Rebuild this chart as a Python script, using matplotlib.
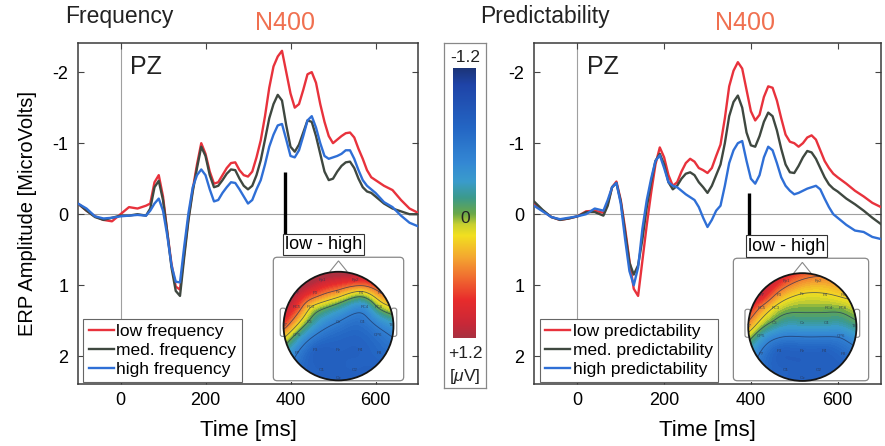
import numpy as np
import matplotlib
matplotlib.use('Agg')
import matplotlib.pyplot as plt
from matplotlib.colors import LinearSegmentedColormap
from matplotlib.patches import Circle, Polygon, FancyBboxPatch

plt.rcParams['font.family'] = ['Liberation Sans', 'DejaVu Sans']
plt.rcParams['mathtext.fontset'] = 'custom'
plt.rcParams['mathtext.it'] = 'Liberation Sans:italic'
plt.rcParams['mathtext.rm'] = 'Liberation Sans'
plt.rcParams['axes.unicode_minus'] = False

# ---------------- data ----------------
time_ms = [-100, -80, -60, -40, -20, 0, 20, 40, 60,
           70, 80, 90, 100, 110, 120, 130, 140, 150, 160, 170, 180, 190, 200,
           210, 220, 230, 240, 250, 260, 270, 280, 290, 300, 310, 320, 330, 340,
           350, 360, 370, 380, 390, 400, 410, 420, 430, 440, 450, 460, 470, 480,
           490, 500, 510, 520, 530, 540, 550, 560, 570, 580, 590, 600,
           620, 640, 660, 680, 700]

freq_low = [-0.15, -0.05, 0.03, 0.08, 0.10, 0.00, -0.10, -0.08, -0.12,
            -0.15, -0.45, -0.55, -0.25, 0.25, 0.70, 1.02, 1.06, 0.55, 0.05, -0.35, -0.70, -1.00, -0.85,
            -0.60, -0.43, -0.45, -0.55, -0.65, -0.72, -0.73, -0.62, -0.55, -0.53, -0.60, -0.80, -1.04, -1.38,
            -1.78, -2.08, -2.22, -2.30, -2.00, -1.70, -1.50, -1.55, -1.75, -1.97, -2.00, -1.85, -1.55, -1.30,
            -1.10, -1.00, -1.05, -1.10, -1.14, -1.15, -1.08, -0.92, -0.78, -0.62, -0.52, -0.48,
            -0.40, -0.34, -0.20, -0.08, -0.02]
freq_med = [-0.15, -0.05, 0.04, 0.08, 0.05, 0.02, 0.02, 0.00, 0.02,
            -0.08, -0.38, -0.47, -0.20, 0.25, 0.75, 1.08, 1.15, 0.60, 0.08, -0.32, -0.65, -0.95, -0.82,
            -0.55, -0.38, -0.40, -0.48, -0.57, -0.63, -0.62, -0.50, -0.40, -0.35, -0.40, -0.55, -0.76, -1.05,
            -1.35, -1.55, -1.68, -1.60, -1.25, -0.95, -0.88, -0.98, -1.15, -1.32, -1.30, -1.10, -0.85, -0.60,
            -0.48, -0.50, -0.60, -0.68, -0.73, -0.74, -0.65, -0.50, -0.38, -0.32, -0.30, -0.25,
            -0.15, -0.08, -0.04, 0.00, 0.00]
freq_high = [-0.15, -0.08, 0.03, 0.06, 0.05, 0.03, 0.02, 0.01, 0.02,
             -0.05, -0.15, -0.22, -0.05, 0.30, 0.72, 0.95, 0.96, 0.45, -0.02, -0.38, -0.55, -0.63, -0.55,
             -0.35, -0.18, -0.20, -0.30, -0.38, -0.45, -0.44, -0.35, -0.25, -0.15, -0.20, -0.35, -0.48, -0.70,
             -0.95, -1.12, -1.25, -1.27, -1.05, -0.82, -0.80, -0.90, -1.10, -1.32, -1.38, -1.22, -1.00, -0.82,
             -0.78, -0.80, -0.82, -0.85, -0.90, -0.90, -0.78, -0.62, -0.48, -0.40, -0.35, -0.30,
             -0.17, -0.10, 0.02, 0.12, 0.17]

pred_low = [-0.15, -0.05, 0.04, 0.08, 0.06, 0.03, -0.04, -0.05, -0.02,
            -0.15, -0.38, -0.46, -0.20, 0.20, 0.65, 1.05, 1.15, 0.65, 0.15, -0.30, -0.70, -0.94, -0.80,
            -0.55, -0.40, -0.45, -0.60, -0.72, -0.78, -0.74, -0.65, -0.62, -0.58, -0.65, -0.82, -0.98, -1.35,
            -1.80, -2.02, -2.14, -2.05, -1.75, -1.45, -1.32, -1.40, -1.65, -1.80, -1.78, -1.60, -1.35, -1.12,
            -1.02, -1.00, -0.95, -1.00, -1.08, -1.11, -1.05, -0.90, -0.75, -0.65, -0.57, -0.52,
            -0.43, -0.33, -0.25, -0.16, -0.10]
pred_med = [-0.18, -0.06, 0.04, 0.08, 0.06, 0.03, -0.03, -0.03, 0.02,
            -0.12, -0.38, -0.44, -0.18, 0.25, 0.68, 0.85, 0.72, 0.35, -0.10, -0.45, -0.75, -0.85, -0.70,
            -0.45, -0.35, -0.40, -0.50, -0.57, -0.59, -0.55, -0.45, -0.38, -0.30, -0.40, -0.55, -0.70, -1.00,
            -1.38, -1.58, -1.67, -1.50, -1.15, -0.97, -0.95, -1.10, -1.30, -1.43, -1.38, -1.18, -0.92, -0.70,
            -0.59, -0.58, -0.68, -0.80, -0.89, -0.87, -0.78, -0.65, -0.52, -0.42, -0.36, -0.32,
            -0.22, -0.14, -0.05, 0.05, 0.14]
pred_high = [-0.12, -0.04, 0.04, 0.07, 0.05, 0.03, 0.00, -0.08, -0.05,
             -0.20, -0.38, -0.44, -0.15, 0.35, 0.80, 1.00, 0.75, 0.20, -0.20, -0.50, -0.75, -0.83, -0.65,
             -0.45, -0.40, -0.38, -0.33, -0.28, -0.24, -0.20, -0.10, 0.05, 0.18, 0.08, -0.05, -0.12, -0.40,
             -0.72, -0.90, -1.00, -1.03, -0.75, -0.50, -0.43, -0.55, -0.80, -0.95, -0.90, -0.72, -0.52, -0.40,
             -0.33, -0.28, -0.30, -0.33, -0.36, -0.38, -0.40, -0.35, -0.22, -0.10, 0.00, 0.05,
             0.15, 0.23, 0.25, 0.32, 0.35]

freq_labels = ['low frequency', 'med. frequency', 'high frequency']
pred_labels = ['low predictability', 'med. predictability', 'high predictability']
x_ticks = [0, 200, 400, 600]
y_ticks = [-2, -1, 0, 1, 2]

# difference marker (time, from, to)
freq_marker = (388, -0.6, 0.58)
pred_marker = (395, -0.3, 0.62)

# topographic maps (low - high), electrode layout and values
electrodes = ['Fp1', 'Fp2', 'F7', 'F3', 'Fz', 'F4', 'F8', 'FC5', 'FC3', 'FC4', 'FC6',
              'T7', 'C3', 'Cz', 'C4', 'T8', 'CP5', 'CP6', 'P7', 'P3', 'Pz', 'P4', 'P8',
              'O1', 'O2', 'Oz']
elec_x = [-0.30, 0.30, -0.75, -0.42, 0.00, 0.42, 0.75, -0.76, -0.50, 0.48, 0.74,
          -0.97, -0.52, 0.00, 0.44, 0.97, -0.76, 0.72, -0.75, -0.42, 0.00, 0.40, 0.75,
          -0.30, 0.30, 0.00]
elec_y = [0.85, 0.85, 0.60, 0.60, 0.62, 0.60, 0.60, 0.35, 0.35, 0.35, 0.35,
          0.02, 0.08, 0.08, 0.08, 0.02, -0.16, -0.16, -0.50, -0.44, -0.44, -0.44, -0.50,
          -0.80, -0.80, -0.95]
freq_topo = [1.10, 0.90, 1.10, 0.75, 0.50, 0.20, 0.55, 0.80, 0.30, -0.30, 0.10,
             0.70, 0.00, -0.45, -0.55, -0.25, 0.00, -0.55, -0.45, -0.72, -0.72, -0.72, -0.65,
             -0.72, -0.72, -0.75]
pred_topo = [0.75, 0.50, 1.00, 0.50, 0.30, 0.28, 0.35, 0.55, 0.25, 0.10, 0.12,
             0.45, 0.00, -0.10, -0.10, -0.05, -0.15, -0.40, -0.50, -0.72, -0.72, -0.72, -0.65,
             -0.72, -0.72, -0.75]
cbar_range = (-1.2, 1.2)
cbar_labels = ['-1.2', '0', '+1.2']

# ---------------- style ----------------
c_low, c_med, c_high = '#e8323c', '#3f4840', '#2f6fd6'
cmap = LinearSegmentedColormap.from_list('erp', [
    (0.00, '#1c3578'), (0.06, '#1f44a8'), (0.22, '#2466c4'), (0.35, '#3488d4'),
    (0.42, '#3a9ccc'), (0.48, '#3c9a8c'), (0.54, '#6aa848'), (0.58, '#c8d030'),
    (0.62, '#f2e020'), (0.70, '#f4a830'), (0.78, '#f06a30'), (0.86, '#e82c2c'),
    (0.95, '#c82838'), (1.00, '#a83040')])

W, H = 885, 446
fig = plt.figure(figsize=(W / 100, H / 100), dpi=100)


def fr(x0, y0, x1, y1):
    return [x0 / W, 1 - y1 / H, (x1 - x0) / W, (y1 - y0) / H]


def erp_panel(rect, series, labels, marker, ylab):
    ax = fig.add_axes(rect)
    t = np.array(time_ms)
    ax.axhline(0, color='#a0a0a0', lw=0.8, zorder=1)
    ax.axvline(0, color='#a0a0a0', lw=0.8, zorder=1)
    for vals, col, lab in zip(series, (c_low, c_med, c_high), labels):
        ax.plot(t, vals, color=col, lw=1.7, label=lab, zorder=3)
    ax.set_xlim(-100, 700)
    ax.set_ylim(2.39, -2.41)
    ax.set_xticks(x_ticks)
    ax.set_yticks(y_ticks)
    ax.tick_params(direction='in', top=True, right=True, length=4, width=0.8,
                   labelsize=13, pad=7, color='#444444')
    ax.tick_params(axis='x', pad=6)
    for s in ax.spines.values():
        s.set_color('#3a3a3a')
        s.set_linewidth(1.1)
    ax.set_xlabel('Time [ms]', fontsize=16, labelpad=8)
    if ylab:
        ax.set_ylabel('ERP Amplitude [MicroVolts]', fontsize=14.5, labelpad=11)
    ax.text(0.153, 0.93, 'PZ', transform=ax.transAxes, fontsize=18,
            ha='left', va='center', color='#222222')
    ax.plot([marker[0], marker[0]], [marker[1], marker[2]], color='black',
            lw=2.4, solid_capstyle='butt', zorder=4)
    leg = ax.legend(loc='lower left', bbox_to_anchor=(0.016, 0.005), borderaxespad=0,
                    fontsize=12.5, handlelength=1.45, handletextpad=0.15,
                    labelspacing=0.22, borderpad=0.3, fancybox=False, framealpha=1)
    leg.get_frame().set_edgecolor('#666666')
    leg.get_frame().set_linewidth(0.8)
    return ax


axL = erp_panel(fr(78, 43, 418, 384), (freq_low, freq_med, freq_high), freq_labels,
                freq_marker, True)
axR = erp_panel(fr(534, 43, 881, 384), (pred_low, pred_med, pred_high), pred_labels,
                pred_marker, False)


def tps(px, py, v, gx, gy):
    pts = np.column_stack([px, py])
    n = len(pts)

    def phi(r):
        out = np.zeros_like(r)
        m = r > 0
        out[m] = r[m] ** 2 * np.log(r[m])
        return out
    d = np.sqrt(((pts[:, None, :] - pts[None, :, :]) ** 2).sum(-1))
    P = np.column_stack([np.ones(n), px, py])
    A = np.zeros((n + 3, n + 3))
    A[:n, :n] = phi(d)
    A[:n, n:] = P
    A[n:, :n] = P.T
    b = np.concatenate([v, np.zeros(3)])
    w = np.linalg.solve(A, b)
    g = np.column_stack([gx.ravel(), gy.ravel()])
    dg = np.sqrt(((g[:, None, :] - pts[None, :, :]) ** 2).sum(-1))
    z = phi(dg) @ w[:n] + w[n] + w[n + 1] * g[:, 0] + w[n + 2] * g[:, 1]
    return z.reshape(gx.shape)


def topo(rect, xlim, ylim, values):
    ax = fig.add_axes(rect)
    ax.set_xlim(*xlim)
    ax.set_ylim(*ylim)
    ax.set_xticks([])
    ax.set_yticks([])
    for s in ax.spines.values():
        s.set_visible(False)
    box = FancyBboxPatch((0.01, 0.01), 0.98, 0.98, boxstyle='round,pad=0,rounding_size=0.03',
                         transform=ax.transAxes, facecolor='white', edgecolor='#888888',
                         lw=0.9, zorder=0)
    ax.add_patch(box)
    g = np.linspace(-1, 1, 121)
    gx, gy = np.meshgrid(g, g)
    z = tps(np.array(elec_x), np.array(elec_y), np.array(values), gx, gy)
    z = np.clip(z, cbar_range[0], cbar_range[1])
    z[gx ** 2 + gy ** 2 > 1.02] = np.nan
    circ = Circle((0, 0), 1.0, transform=ax.transData, facecolor='none')
    cf = ax.contourf(gx, gy, z, levels=np.linspace(-1.2, 1.2, 61), cmap=cmap,
                     vmin=-1.2, vmax=1.2, zorder=1)
    cf.set_clip_path(circ)
    cl = ax.contour(gx, gy, z, levels=[-0.45, 0.05, 0.3, 0.6], colors='#1e2f5a',
                    linewidths=0.6, linestyles='solid', alpha=0.7, zorder=2)
    cl.set_clip_path(circ)
    ax.add_patch(Circle((0, 0), 1.0, facecolor='none', edgecolor='#151515', lw=1.3, zorder=4))
    ax.add_patch(Polygon([(-0.16, 1.0), (0, 1.2), (0.16, 1.0)], closed=False,
                         facecolor='none', edgecolor='#888888', lw=0.8, zorder=3))
    for sgn in (-1, 1):
        ax.add_patch(FancyBboxPatch((sgn * 1.01 - 0.05, -0.19), 0.1, 0.52,
                                    boxstyle='round,pad=0,rounding_size=0.04',
                                    facecolor='white', edgecolor='#888888', lw=0.8, zorder=0.5))
    for name, x, y in zip(electrodes, elec_x, elec_y):
        ax.text(x, y, name, fontsize=3.2, color='#2a3550', ha='center', va='center',
                zorder=5, alpha=0.8)
    return ax


topo(fr(272, 256, 405, 382), (-1.21, 1.21), (-1.03, 1.29), freq_topo)
topo(fr(732, 257, 870, 382), (-1.30, 1.25), (-1.02, 1.30), pred_topo)

# "low - high" labels
for x0, yc in ((285, 244.5), (748, 246)):
    fig.text(x0 / W, 1 - yc / H, 'low - high', fontsize=13, ha='left', va='center',
             bbox=dict(boxstyle='square,pad=0.12', facecolor='white', edgecolor='#333333', lw=0.8))

# colour bar
cbox = fig.add_axes(fr(444, 43, 486, 388))
cbox.set_xticks([])
cbox.set_yticks([])
for s in cbox.spines.values():
    s.set_color('#888888')
    s.set_linewidth(0.9)
cax = fig.add_axes(fr(453, 68, 476, 338))
grad = np.linspace(cbar_range[0], cbar_range[1], 256).reshape(-1, 1)
cax.imshow(grad, cmap=cmap, aspect='auto', origin='upper', vmin=-1.2, vmax=1.2)
cax.set_xticks([])
cax.set_yticks([])
for s in cax.spines.values():
    s.set_visible(False)
for lab, yc in zip(cbar_labels, (58, 218, 353)):
    fig.text(465 / W, 1 - yc / H, lab, fontsize=12.5, ha='center', va='center', color='#222222')
fig.text(465 / W, 1 - 377 / H, r'[$\mu$V]', fontsize=12.5, ha='center', va='center', color='#222222')

# titles
fig.text(65 / W, 1 - 17 / H, 'Frequency', fontsize=16.5, ha='left', va='center', color='#222222')
fig.text(255 / W, 1 - 23 / H, 'N400', fontsize=18, ha='left', va='center', color='#f07050')
fig.text(480 / W, 1 - 17 / H, 'Predictability', fontsize=16.5, ha='left', va='center', color='#222222')
fig.text(715 / W, 1 - 23 / H, 'N400', fontsize=18, ha='left', va='center', color='#f07050')

fig.savefig('out.png', dpi=100)
